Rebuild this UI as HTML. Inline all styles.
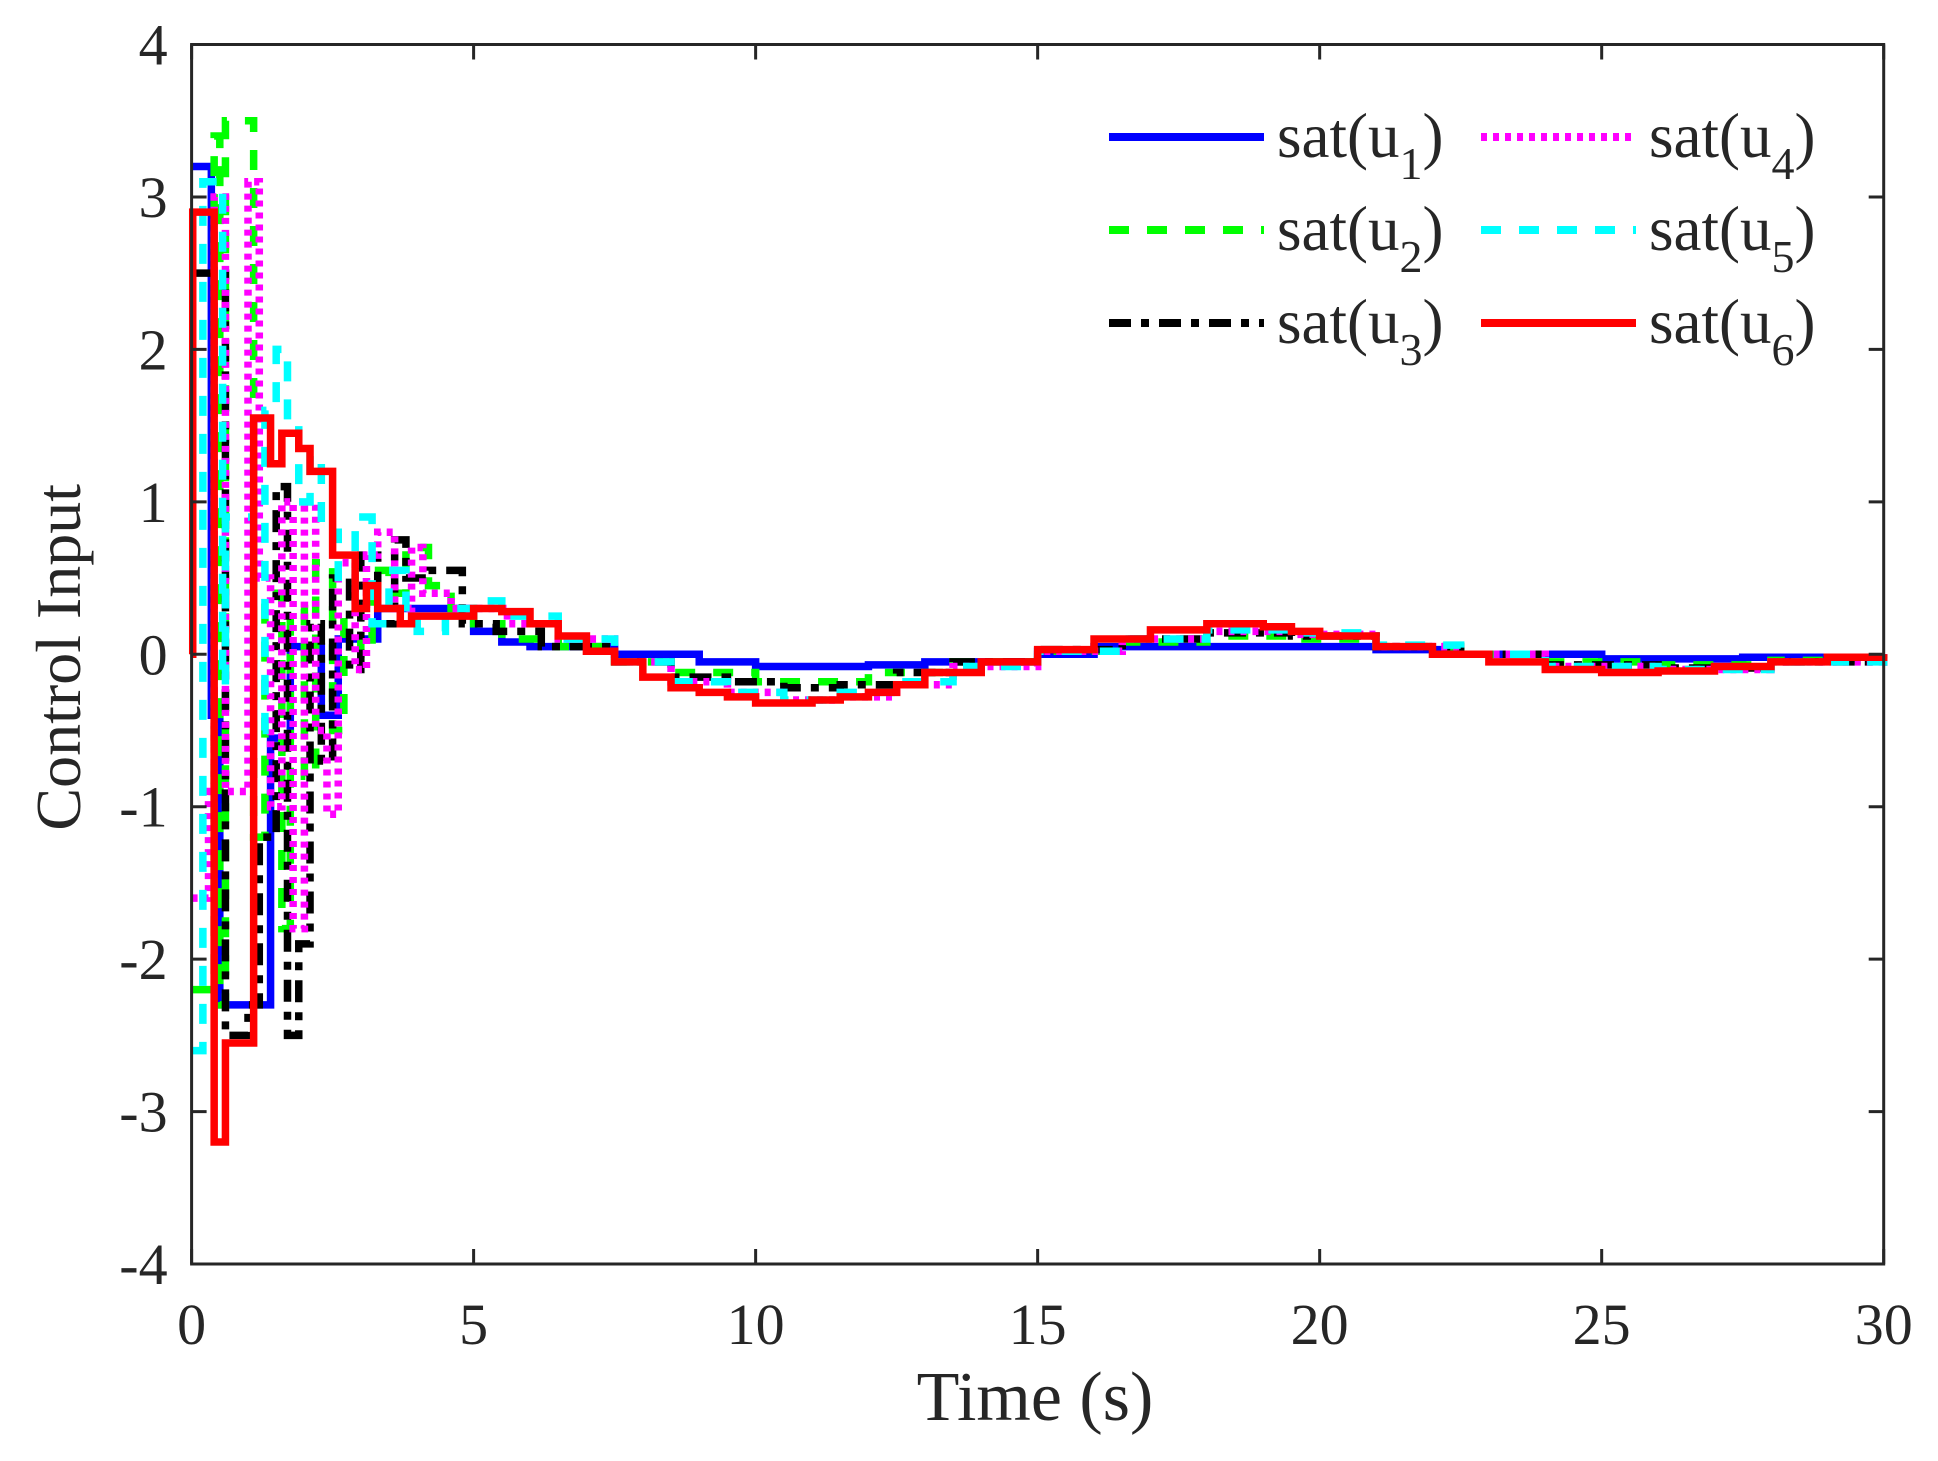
<!DOCTYPE html>
<html><head><meta charset="utf-8"><style>
html,body{margin:0;padding:0;background:#fff;}
svg text{font-family:"Liberation Serif",serif;fill:#262626;}
</style></head><body>
<svg id="chart" width="1938" height="1456" xmlns="http://www.w3.org/2000/svg">
<g id="plot"></g>
<g id="axes"></g>
<g id="legend"></g>
</svg>
<script>
const xTicks=[0,5,10,15,20,25,30];
const yTicks=[-4,-3,-2,-1,0,1,2,3,4];
const seriesNames=["sat(u1)","sat(u2)","sat(u3)","sat(u4)","sat(u5)","sat(u6)"];
const u1=[[0,3.2],[0.35,-0.4],[0.5,-2.3],[1.4,-0.55],[1.75,0.05],[2.3,-0.4],[2.6,0.1],[3.3,0.3],[5,0.15],[5.5,0.08],[6,0.05],[7.5,0],[9,-0.05],[10,-0.08],[12,-0.07],[13,-0.05],[15,0],[16,0.05],[19.5,0.05],[21,0.03],[22.5,0],[25,-0.03],[27.5,-0.02],[30,0]];
const u2=[[0,-2.2],[0.4,3.4],[0.5,-2.3],[0.6,3.5],[1.1,-1.2],[1.3,0.4],[1.6,-1.8],[1.75,0.3],[2.0,-0.8],[2.2,0.6],[2.5,-0.5],[2.7,0.3],[3.0,0.0],[3.2,0.55],[3.5,0.4],[3.8,0.7],[4.2,0.45],[4.6,0.3],[5,0.2],[5.5,0.1],[6.5,0.05],[7.5,-0.05],[8.5,-0.12],[10,-0.18],[12,-0.12],[13.5,-0.05],[15,0.02],[16.5,0.08],[18,0.12],[19.5,0.1],[21,0.05],[22.5,0],[24,-0.05],[26,-0.07],[28,-0.04],[30,0]];
const u3=[[0,2.5],[0.6,-2.5],[1.0,-2.3],[1.2,-1.2],[1.5,1.1],[1.7,-2.5],[1.9,-1.9],[2.1,0.2],[2.3,-0.7],[2.5,0.5],[2.8,-0.1],[3.0,0.65],[3.3,0.2],[3.6,0.75],[3.8,0.5],[4.2,0.55],[4.8,0.2],[5.4,0.15],[6.2,0.05],[7.5,-0.05],[8.5,-0.15],[9.5,-0.18],[10.5,-0.22],[11.5,-0.2],[12.5,-0.12],[13.5,-0.05],[15,0.03],[16.5,0.1],[18,0.14],[19.5,0.12],[21,0.05],[22.5,0],[24,-0.07],[26,-0.09],[28,-0.05],[30,0]];
const u4=[[0,-1.6],[0.3,-0.9],[0.4,3.0],[0.6,-0.9],[1.0,3.1],[1.2,0.5],[1.4,-1.0],[1.6,1.0],[1.8,-1.8],[2.0,1.0],[2.2,-0.5],[2.4,-1.05],[2.6,0.6],[2.9,-0.1],[3.1,0.65],[3.3,0.8],[3.6,0.3],[3.9,0.7],[4.1,0.4],[4.6,0.3],[5,0.3],[5.6,0.2],[6.5,0.1],[7.5,-0.05],[8.5,-0.18],[9.5,-0.25],[10.5,-0.3],[11.5,-0.28],[12.5,-0.2],[13.5,-0.08],[15,0.02],[16.5,0.1],[18,0.15],[19.5,0.13],[21,0.05],[22.5,0],[24,-0.08],[26,-0.1],[28,-0.05],[30,0]];
const u5=[[0,-2.6],[0.2,3.1],[0.55,-0.2],[0.6,0.9],[1.0,0.9],[1.1,-0.5],[1.3,1.6],[1.5,2.0],[1.7,1.5],[1.9,1.0],[2.1,1.3],[2.3,0.8],[2.6,0.45],[2.9,0.9],[3.2,0.2],[3.5,0.55],[3.8,0.25],[4.0,0.15],[4.5,0.3],[5,0.35],[5.5,0.25],[6.5,0.1],[7.5,-0.05],[8.5,-0.18],[9.5,-0.25],[10.5,-0.3],[11.5,-0.25],[12.5,-0.18],[13.5,-0.08],[15,0.02],[16.5,0.1],[18,0.16],[19.5,0.14],[21,0.06],[22.5,0],[24,-0.08],[26,-0.1],[28,-0.05],[30,0]];
const u6=[[0,0],[0.02,2.9],[0.4,-3.2],[0.6,-2.55],[1.1,1.55],[1.4,1.25],[1.6,1.45],[1.9,1.35],[2.1,1.2],[2.5,0.65],[2.9,0.3],[3.1,0.45],[3.3,0.3],[3.7,0.2],[3.9,0.25],[5,0.3],[5.5,0.28],[6,0.2],[6.5,0.12],[7,0.02],[7.5,-0.05],[8,-0.15],[8.5,-0.22],[9,-0.25],[9.5,-0.28],[10,-0.32],[11,-0.3],[11.5,-0.28],[12,-0.25],[12.5,-0.2],[13,-0.12],[14,-0.05],[15,0.03],[16,0.1],[17,0.16],[18,0.2],[19,0.18],[19.5,0.15],[20,0.12],[21,0.05],[22,0],[23,-0.05],[24,-0.1],[25,-0.12],[26,-0.11],[27,-0.08],[28,-0.05],[29,-0.02],[30,0]];

const NS="http://www.w3.org/2000/svg";
const L=191.6,R=1883.7,T=44.5,B=1264;
const xs=t=>L+(t-0)/30*(R-L);
const ys=v=>B-(v+4)/8*(B-T);
function mk(tag,attrs,parent){const e=document.createElementNS(NS,tag);for(const k in attrs)e.setAttribute(k,attrs[k]);parent.appendChild(e);return e;}
const plot=document.getElementById('plot'),axes=document.getElementById('axes'),leg=document.getElementById('legend');
const styles=[
 {c:"#0000ff",d:"none",slug:"u1"},{c:"#00ff00",d:"20 18",slug:"u2"},{c:"#000000",d:"22 10 8 10",slug:"u3"},
 {c:"#ff00ff",d:"6 6",slug:"u4"},{c:"#00ffff",d:"20 18",slug:"u5"},{c:"#ff0000",d:"none",slug:"u6"}];
const data=[u1,u2,u3,u4,u5,u6];
[0,1,2,3,4,5].forEach(i=>{
 const pts=data[i];let d="M"+xs(pts[0][0])+","+ys(pts[0][1]);
 for(let k=1;k<pts.length;k++){d+=" L"+xs(pts[k][0])+","+ys(pts[k-1][1])+" L"+xs(pts[k][0])+","+ys(pts[k][1]);}
 const p=mk('path',{d:d,fill:"none",stroke:styles[i].c,"stroke-width":7.5,"stroke-dasharray":styles[i].d,"stroke-linejoin":"miter"},plot);
 
 
});
const box=mk('rect',{x:L,y:T,width:R-L,height:B-T,fill:"none",stroke:"#262626","stroke-width":3},axes);


xTicks.forEach(t=>{
 const x=xs(t);
 const tk=mk('path',{d:`M${x},${B} V${B-15} M${x},${T} V${T+15}`,stroke:"#262626","stroke-width":3},axes);
 
 
 const lb=mk('text',{x:x,y:B+80,"text-anchor":"middle","font-size":58},axes);lb.textContent=t;
 
 
});
yTicks.forEach(v=>{
 const y=ys(v);
 const tk=mk('path',{d:`M${L},${y} H${L+15} M${R},${y} H${R-15}`,stroke:"#262626","stroke-width":3},axes);
 
 
 const lb=mk('text',{x:L-24,y:y+20,"text-anchor":"end","font-size":58},axes);lb.textContent=v;
 
 
});
const xt=mk('text',{x:1035,y:1420,"text-anchor":"middle","font-size":70},axes);xt.textContent="Time (s)";


const yt=mk('text',{x:0,y:0,"text-anchor":"middle","font-size":64,transform:`translate(80,${(T+B)/2+3}) rotate(-90)`},axes);yt.textContent="Control Input";


const lx=[1109,1481],ly=[137,230,323],subs=["1","2","3","4","5","6"];
for(let i=0;i<6;i++){
 const col=Math.floor(i/3),row=i%3;const x0=lx[col],y0=ly[row];
 const g=mk('g',{},leg);
 
 
 mk('line',{x1:x0,y1:y0,x2:x0+155,y2:y0,stroke:styles[i].c,"stroke-width":8,"stroke-dasharray":styles[i].d},g);
 const tx=mk('text',{x:x0+168,y:y0+20,"font-size":63},g);
 tx.innerHTML=`sat(u<tspan font-size="46" dy="22">${subs[i]}</tspan><tspan dy="-22">)</tspan>`;
}
</script>
</body></html>
